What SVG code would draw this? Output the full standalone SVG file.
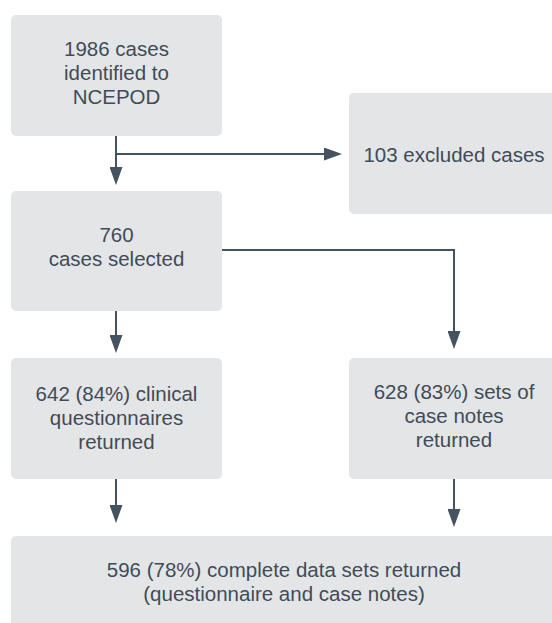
<svg xmlns="http://www.w3.org/2000/svg" width="552" height="623" viewBox="0 0 552 623">
<style>
.box{fill:#e4e5e7}
.t{font-family:"Liberation Sans","Open Sans",sans-serif;font-size:20.5px;fill:#3f4c57;text-anchor:middle}
.c{fill:none;stroke:#44535f;stroke-width:2}
</style>
<defs>
<marker id="ah" markerUnits="userSpaceOnUse" markerWidth="18" markerHeight="13" refX="14" refY="6.5" orient="auto" viewBox="0 0 18 13">
<path d="M0,0 L18,6.5 L0,13 z" fill="#44535f"/>
</marker>
</defs>
<g id="n1"><rect class="box" x="11" y="15" width="211" height="121" rx="5"/>
<text class="t" x="116.5" y="56">1986 cases</text><text class="t" x="116.5" y="80">identified to</text><text class="t" x="116.5" y="104">NCEPOD</text></g>
<g id="n2"><rect class="box" x="349" y="93" width="211" height="121" rx="5"/>
<text class="t" x="454" y="162">103 excluded cases</text></g>
<g id="n3"><rect class="box" x="11" y="191" width="211" height="120" rx="5"/>
<text class="t" x="116.5" y="242">760</text><text class="t" x="116.5" y="266">cases selected</text></g>
<g id="n4"><rect class="box" x="11" y="358" width="211" height="121" rx="5"/>
<text class="t" x="116.5" y="401">642 (84%) clinical</text><text class="t" x="116.5" y="425">questionnaires</text><text class="t" x="116.5" y="449">returned</text></g>
<g id="n5"><rect class="box" x="349" y="358" width="211" height="121" rx="5"/>
<text class="t" x="454" y="399">628 (83%) sets of</text><text class="t" x="454" y="423">case notes</text><text class="t" x="454" y="447">returned</text></g>
<g id="n6"><rect class="box" x="11" y="536" width="546" height="100" rx="5"/>
<text class="t" x="284" y="577">596 (78%) complete data sets returned</text><text class="t" x="284" y="601">(questionnaire and case notes)</text></g>
<g id="connectors">
<path class="c" d="M116,136 V181" marker-end="url(#ah)"/>
<path class="c" d="M116,154 H338" marker-end="url(#ah)"/>
<path class="c" d="M222,250 H454 V345" marker-end="url(#ah)"/>
<path class="c" d="M116,311 V349" marker-end="url(#ah)"/>
<path class="c" d="M116,479 V519" marker-end="url(#ah)"/>
<path class="c" d="M454,479 V523" marker-end="url(#ah)"/>
</g>
</svg>
